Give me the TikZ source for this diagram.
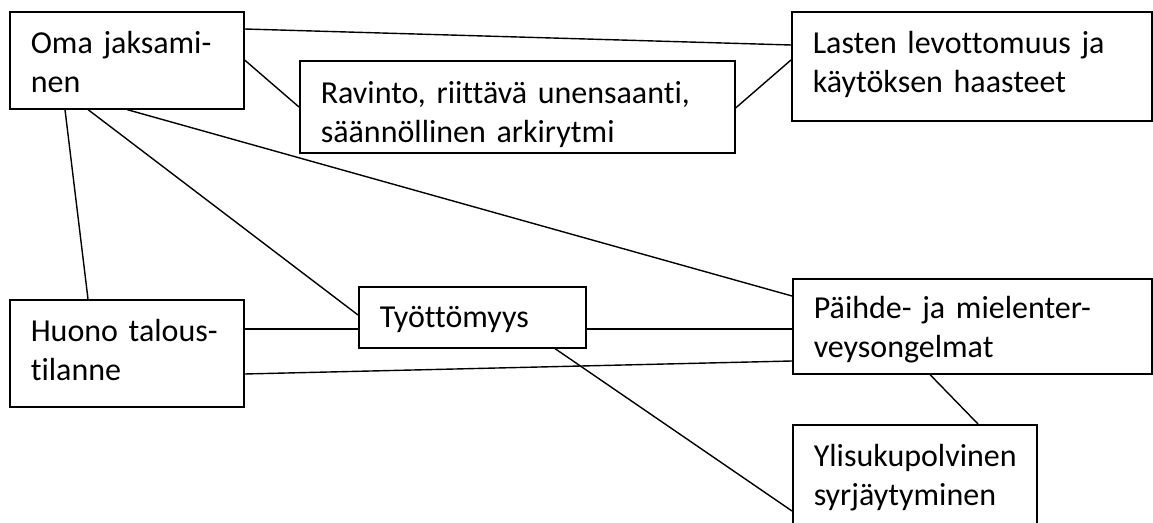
\documentclass[tikz,border=0pt]{standalone}
\usepackage{fontspec}
\setmainfont{Carlito}[WordSpace=0.75, Ligatures=NoCommon]
\usetikzlibrary{calc}
\tikzset{
  causebox/.style = {draw, line width=0.8pt, anchor=north west, align=left,
    inner xsep=10.5pt, inner ysep=0pt, text height=21pt,
    font=\fontsize{16pt}{19.3pt}\selectfont},
  link/.style = {line width=0.7pt}
}

\begin{document}
\begin{tikzpicture}[x=0.5pt, y=-0.5pt]
\path[use as bounding box, clip] (0,0) rectangle (1153,523);
\node[causebox, text width=96pt, text depth=27.5pt] (oma) at (9,11) {Oma jaksami-\\nen};
\node[causebox, text width=196.5pt, text height=21.5pt, text depth=24.5pt] (ravinto) at (299,60) {Ravinto, riittävä unensaanti,\\säännöllinen arkirytmi};
\node[causebox, text width=159pt, text depth=33.5pt] (lapset) at (791,11) {Lasten levottomuus ja\\käytöksen haasteet};
\node[causebox, text width=96pt, text depth=32.5pt] (talous) at (9,299) {Huono talous-\\tilanne};
\node[causebox, text width=92.5pt, text height=20.5pt, text depth=10pt] (tyo) at (358,286) {Työttömyys};
\node[causebox, text width=158.5pt, text height=20pt, text depth=27.5pt] (paihde) at (792,278) {Päihde- ja mielenter-\\veysongelmat};
\node[causebox, text width=101pt, text depth=40pt] (yli) at (792,424) {Ylisukupolvinen\\syrjäytyminen};
\draw[link] (oma.east |- 0,29) -- (lapset.west |- 0,45);
\draw[link] (oma.east |- 0,60) -- (ravinto.west |- 0,107);
\draw[link] (ravinto.east |- 0,108) -- (lapset.west |- 0,60);
\draw[link] (oma.south -| 65,0) -- (talous.north -| 88,0);
\draw[link] (oma.south -| 88,0) -- (tyo.west |- 0,315);
\draw[link] (oma.south -| 127,0) -- (paihde.west |- 0,296);
\draw[link] (talous.east |- 0,329) -- (tyo.west |- 0,329);
\draw[link] (tyo.east |- 0,329) -- (paihde.west |- 0,329);
\draw[link] (talous.east |- 0,374) -- (paihde.west |- 0,361);
\draw[link] (tyo.south -| 555,0) -- (yli.west |- 0,511);
\draw[link] (paihde.south -| 930,0) -- (yli.north -| 978,0);
\end{tikzpicture}
\end{document}
